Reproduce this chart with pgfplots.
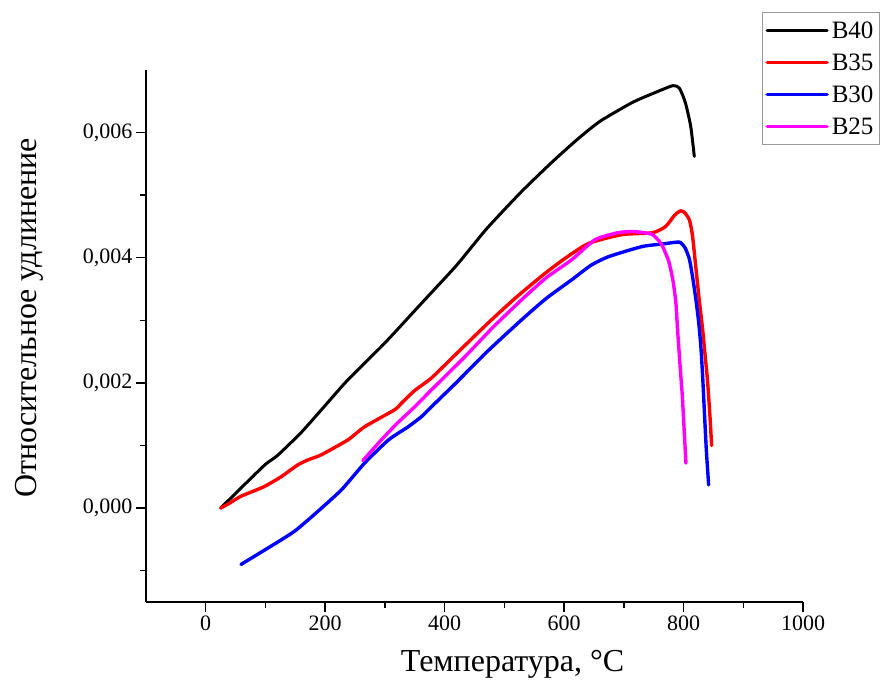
\documentclass[border=0pt]{standalone}
\usepackage{fontspec}
\setmainfont{Liberation Serif}
\usepackage{pgfplots}
\pgfplotsset{compat=1.18}
\definecolor{cB25}{RGB}{255,0,255}
\definecolor{cB30}{RGB}{0,0,255}
\definecolor{cB35}{RGB}{255,0,0}
\begin{document}
\begin{tikzpicture}
\useasboundingbox (0,0) rectangle (882pt,686pt);
\begin{axis}[
    at={(146pt,84pt)}, anchor=south west,
    scale only axis, width=657pt, height=532pt,
    xmin=-100, xmax=1000, ymin=-0.0015, ymax=0.007,
    axis lines*=left,
    axis line style={line width=1.6pt},
    xtick={0,200,400,600,800,1000},
    minor xtick={100,300,500,700,900},
    ytick={0,0.002,0.004,0.006},
    minor ytick={-0.001,0.001,0.003,0.005},
    tick align=outside,
    major tick length=10pt, minor tick length=6pt,
    tick style={line width=1.4pt, black},
    scaled y ticks=false,
    yticklabel style={/pgf/number format/.cd, fixed, fixed zerofill, precision=3, use comma},
    xticklabel style={/pgf/number format/.cd, 1000 sep={}},
    /pgf/number format/assume math mode=true,
    tick label style={font=\fontsize{22}{26}\selectfont},
    label style={font=\fontsize{32}{38}\selectfont},
    xlabel={Температура, °C},
    ylabel={Относительное удлинение},
    xlabel style={at={(axis description cs:0.558,-0.118)}, anchor=center},
    ylabel style={at={(axis description cs:-0.177,0.534)}, anchor=center},
    legend style={at={(axis description cs:1.117,1.109)}, anchor=north east,
        draw=gray!80, line width=0.8pt, font=\fontsize{25}{28}\selectfont,
        cells={anchor=west}, inner xsep=3pt, inner ysep=6pt, row sep=8pt,
        nodes={inner sep=3pt}},
    legend image code/.code={\draw[#1] (0pt,0pt) -- (60pt,0pt);},
    every axis plot/.append style={smooth, tension=0.35, line cap=round, line join=round},
]
\addplot[black, line width=3pt] coordinates {
    (25,0) (60,0.00033) (100,0.00070) (120,0.00084) (160,0.00121) (200,0.00164)
    (238,0.00205) (300,0.00264) (361,0.00327) (420,0.00388) (470,0.00446)
    (529,0.00506) (580,0.00553) (622,0.00589) (660,0.00618) (714,0.00648)
    (750,0.00663) (782,0.00675) (793,0.00671) (803,0.00648) (812,0.00610)
    (818,0.00562)
};
\addlegendentry{B40}
\addplot[cB35, line width=3.4pt] coordinates {
    (25,0) (40,0.00008) (59,0.00019) (97,0.00034) (126,0.00050) (154,0.00069)
    (171,0.00077) (193,0.00085) (238,0.00109) (266,0.00130) (316,0.00157)
    (328,0.00168) (350,0.00188) (378,0.00208) (420,0.00247) (473,0.00296)
    (520,0.00337) (568,0.00375) (600,0.00398) (641,0.00423) (697,0.00437)
    (748,0.00440) (770,0.00450) (785,0.00468) (795,0.00475) (802,0.00472)
    (810,0.00460) (815,0.00435) (820,0.00390) (826,0.00335) (832,0.00285)
    (836,0.00245) (840,0.00205) (844,0.00150) (847,0.00100)
};
\addlegendentry{B35}
\addplot[cB30, line width=3.4pt] coordinates {
    (59,-0.00090) (90,-0.00072) (126,-0.00051) (150,-0.00036) (182,-0.00010)
    (227,0.00029) (266,0.00072) (306,0.00109) (339,0.00130) (361,0.00146)
    (378,0.00162) (420,0.00201) (470,0.00249) (529,0.00301) (570,0.00335)
    (613,0.00365) (645,0.00388) (675,0.00402) (731,0.00418) (765,0.00422)
    (793,0.00425) (803,0.00415) (810,0.00397) (815,0.00370) (820,0.00338)
    (825,0.00300) (829,0.00258) (832,0.00210) (835,0.00152) (838,0.00095)
    (842,0.00037)
};
\addlegendentry{B30}
\addplot[cB25, line width=3.4pt] coordinates {
    (263,0.00076) (294,0.00109) (320,0.00135) (350,0.00162) (378,0.00189)
    (434,0.00242) (480,0.00288) (529,0.00333) (570,0.00368) (613,0.00397)
    (652,0.00429) (690,0.00440) (714,0.00442) (735,0.00440) (748,0.00437)
    (758,0.00428) (765,0.00418) (775,0.00395) (782,0.00365) (787,0.00330)
    (790,0.00285) (794,0.00230) (798,0.00178) (801,0.00125) (804,0.00072)
};
\addlegendentry{B25}
\end{axis}
\end{tikzpicture}
\end{document}
